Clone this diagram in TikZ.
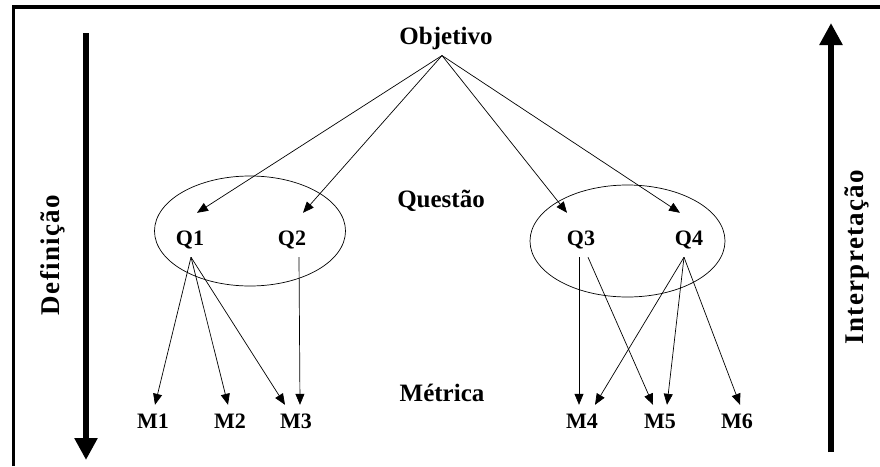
\documentclass[tikz,border=0pt]{standalone}
\usepackage{fontspec}
\setmainfont{Liberation Serif}
\newfontfamily\spacedfont[LetterSpace=5]{Liberation Serif}
\usetikzlibrary{arrows.meta}

\begin{document}
\begin{tikzpicture}[x=1pt,y=-1pt,
    lbl/.style={font=\bfseries\fontsize{25}{28}\selectfont, inner sep=0pt, anchor=base},
    qlbl/.style={font=\bfseries\fontsize{22}{24}\selectfont, inner sep=0pt, anchor=base,
      text height=32pt, text depth=12pt},
    mlbl/.style={font=\bfseries\fontsize{22}{24}\selectfont, inner sep=0pt, anchor=base,
      text height=23pt},
    conn/.style={-{Triangle[length=11pt,width=9pt]}, line width=0.7pt},
    axis/.style={line width=5.5pt, -{Triangle[length=22pt,width=22pt]}},
    side/.style={font=\spacedfont\bfseries\fontsize{27}{30}\selectfont,
      rotate=90, inner sep=0pt}]
    \useasboundingbox (0,0) rectangle (880,466);
    \draw[line width=3.5pt] (13.5,466) -- (13.5,7) -- (880,7);

    % top-down and bottom-up
    \draw[axis] (86,33) -- (86,460);
    \node[side] (defin) at (53,255) {Definição};
    \draw[axis] (831,452) -- (831,23);
    \node[side] (interp) at (857,257) {Interpretação};

    \node[lbl] (objetivo) at (446,44) {Objetivo};
    \node[lbl] (questao) at (441,207) {Questão};
    \node[lbl] (metrica) at (442,401) {Métrica};

    \node[qlbl] (q1) at (190,245) {Q1};
    \node[qlbl] (q2) at (292,245) {Q2};
    \node[qlbl] (q3) at (581,245) {Q3};
    \node[qlbl] (q4) at (689,245) {Q4};

    \node[mlbl] (m1) at (153,428) {M1};
    \node[mlbl] (m2) at (230,428) {M2};
    \node[mlbl] (m3) at (296,428) {M3};
    \node[mlbl] (m4) at (582,428) {M4};
    \node[mlbl] (m5) at (660,428) {M5};
    \node[mlbl] (m6) at (737,428) {M6};

    \draw[line width=0.7pt] (250,231) ellipse [x radius=95.5pt, y radius=55pt];
    \draw[line width=0.7pt] (627.5,241) ellipse [x radius=97.5pt, y radius=56pt];

    \coordinate (root) at ([xshift=-4pt,yshift=-6pt]objetivo.south);
    \draw[conn] (root) -- ([xshift=7pt]q1.north);
    \draw[conn] (root) -- ([xshift=11pt]q2.north);
    \draw[conn] (root) -- ([xshift=-14pt]q3.north);
    \draw[conn] (root) -- ([xshift=-9pt]q4.north);

    \draw[conn] ([xshift=1pt]q1.south) -- ([xshift=2pt]m1.north);
    \draw[conn] ([xshift=1pt]q1.south) -- ([xshift=-2pt]m2.north);
    \draw[conn] ([xshift=1pt]q1.south) -- ([xshift=-11pt]m3.north);
    \draw[conn] ([xshift=7pt]q2.south) -- ([xshift=4pt]m3.north);

    \draw[conn] ([xshift=-2pt]q3.south) -- ([xshift=-3pt]m4.north);
    \draw[conn] ([xshift=7pt]q3.south) -- ([xshift=-7pt]m5.north);
    \draw[conn] ([xshift=-5pt]q4.south) -- ([xshift=13pt]m4.north);
    \draw[conn] ([xshift=-5pt]q4.south) -- ([xshift=7pt]m5.north);
    \draw[conn] ([xshift=-5pt]q4.south) -- ([xshift=3pt]m6.north);
\end{tikzpicture}
\end{document}
